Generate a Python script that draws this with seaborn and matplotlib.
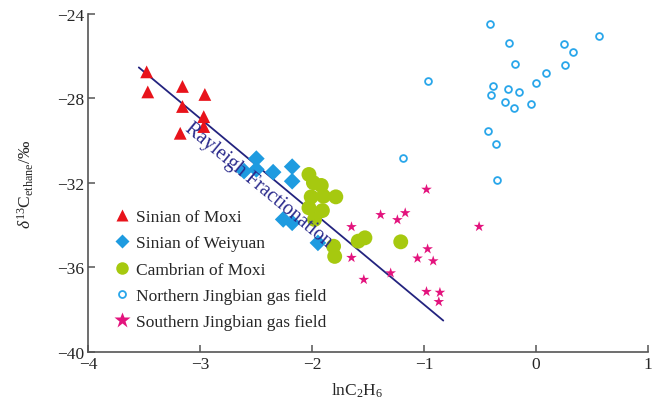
import matplotlib
matplotlib.use("Agg")
from matplotlib import pyplot as plt
from matplotlib.lines import Line2D
import seaborn as sns

# Sinian of Moxi
moxi_x = [-3.48, -3.47, -3.16, -2.96, -3.16, -2.97, -2.97, -3.18]
moxi_y = [-26.74, -27.69, -27.43, -27.81, -28.38, -28.86, -29.33, -29.65]

# Sinian of Weiyuan
weiyuan_x = [-2.50, -2.61, -2.50, -2.35, -2.18, -2.18, -2.26, -2.18, -1.95]
weiyuan_y = [-30.85, -31.44, -31.36, -31.49, -31.23, -31.92, -33.73, -33.89, -34.84]

# Cambrian of Moxi
cambrian_x = [-2.03, -1.99, -1.92, -2.01, -1.90, -1.79, -2.03, -1.91, -1.98,
              -1.81, -1.80, -1.59, -1.53, -1.21]
cambrian_y = [-31.60, -31.99, -32.12, -32.66, -32.63, -32.66, -33.18, -33.31, -33.73,
              -35.00, -35.48, -34.76, -34.60, -34.79]

# Northern Jingbian gas field
north_x = [-0.41, -0.24, 0.56, 0.25, 0.33, 0.26, -0.19, 0.09, 0.00, -0.97, -0.39,
           -0.25, -0.15, -0.40, -0.28, -0.20, -0.05, -0.43, -0.36, -0.35, -1.19]
north_y = [-24.46, -25.36, -25.04, -25.42, -25.80, -26.42, -26.39, -26.79, -27.28,
           -27.18, -27.40, -27.56, -27.70, -27.83, -28.16, -28.46, -28.24, -29.52,
           -30.17, -31.85, -30.84]

# Southern Jingbian gas field
south_x = [-0.98, -1.39, -1.17, -1.24, -1.65, -0.51, -0.97, -1.06, -0.92, -1.65,
           -1.30, -1.54, -0.98, -0.86, -0.87]
south_y = [-32.31, -33.51, -33.42, -33.75, -34.08, -34.07, -35.13, -35.57, -35.70,
           -35.54, -36.27, -36.58, -37.15, -37.19, -37.63]

# Rayleigh fractionation trend
rayleigh_x = [-3.55, -0.83]
rayleigh_y = [-26.53, -38.52]

sns.set_style("ticks")
plt.rcParams["font.family"] = ["Liberation Serif", "DejaVu Serif"]
plt.rcParams["mathtext.fontset"] = "custom"
plt.rcParams["mathtext.rm"] = "Liberation Serif"
plt.rcParams["mathtext.it"] = "Liberation Serif:italic"

fig = plt.figure(figsize=(6.6, 4.06), dpi=100)
ax = fig.add_axes([0.134, 0.131, 0.848, 0.832])

sns.lineplot(x=rayleigh_x, y=rayleigh_y, color="#23237f", linewidth=1.3, ax=ax)

groups = [
    (moxi_x, moxi_y, dict(marker="^", s=85, color="#e8131b", edgecolor="none")),
    (weiyuan_x, weiyuan_y, dict(marker="D", s=72, color="#1e9be0", edgecolor="none")),
    (cambrian_x, cambrian_y, dict(marker="o", s=115, color="#a6c90f", edgecolor="none")),
    (north_x, north_y, dict(marker="o", s=24, facecolor="white", edgecolor="#29a6ea", linewidth=1.3)),
    (south_x, south_y, dict(marker="*", s=65, color="#e3137d", edgecolor="none")),
]
for gx, gy, kw in groups:
    sns.scatterplot(x=gx, y=gy, ax=ax, zorder=3, **kw)

ax.text(-2.48, -32.07, "Rayleigh Fractionation", rotation=-39.6, color="#2a2a8c",
        fontsize=14.5, ha="center", va="center", rotation_mode="anchor")

ax.set_xlim(-4, 1)
ax.set_ylim(-40, -24)
ax.set_xticks([-4, -3, -2, -1, 0, 1])
ax.set_yticks([-40, -36, -32, -28, -24])
ax.tick_params(direction="in", length=5, width=1.1, color="#555555",
               labelsize=12.5, pad=3)
for side in ["top", "right"]:
    ax.spines[side].set_visible(False)
for side in ["left", "bottom"]:
    ax.spines[side].set_color("#555555")
    ax.spines[side].set_linewidth(1.2)

ax.set_xlabel(r"lnC$_2$H$_6$", fontsize=12.5, labelpad=2)
ax.xaxis.set_label_coords(0.48, -0.085)
ax.set_ylabel(r"$\delta^{13}$C$_{\rm ethane}$/‰", fontsize=12.5, labelpad=15)

handles = [
    Line2D([], [], linestyle="", marker="^", markersize=9, color="#e8131b", markeredgecolor="none"),
    Line2D([], [], linestyle="", marker="D", markersize=7, color="#1e9be0", markeredgecolor="none"),
    Line2D([], [], linestyle="", marker="o", markersize=9, color="#a6c90f", markeredgecolor="none"),
    Line2D([], [], linestyle="", marker="o", markersize=5, markerfacecolor="white",
           markeredgecolor="#29a6ea", markeredgewidth=1.3),
    Line2D([], [], linestyle="", marker="*", markersize=12, color="#e3137d", markeredgecolor="none"),
]
labels = ["Sinian of Moxi", "Sinian of Weiyuan", "Cambrian of Moxi",
          "Northern Jingbian gas field", "Southern Jingbian gas field"]
ax.legend(handles, labels, loc="upper left", bbox_to_anchor=(0.032, 0.443),
          frameon=False, fontsize=12.5, handletextpad=0.3, labelspacing=0.58,
          handlelength=1.0, borderaxespad=0)

fig.savefig("out.png", dpi=100)
